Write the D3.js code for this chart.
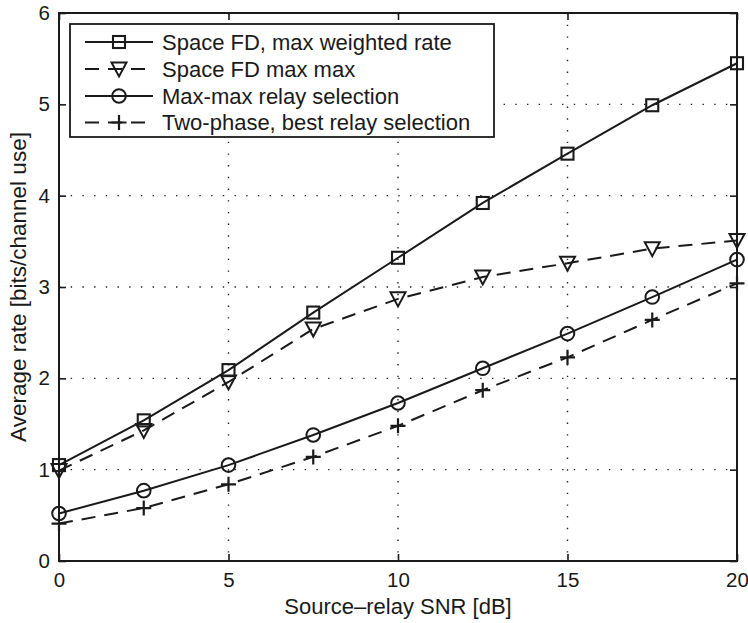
<!DOCTYPE html>
<html><head><meta charset="utf-8">
<script src="https://cdn.jsdelivr.net/npm/d3@7"></script>
<style>
html,body{margin:0;padding:0;background:#fff;}
svg{display:block;font-family:"Liberation Sans",Arial,Helvetica,sans-serif;}
</style></head>
<body>
<svg id="chart" width="748" height="623"></svg>
<script>
const snr = [0, 2.5, 5, 7.5, 10, 12.5, 15, 17.5, 20];
const spaceFdWeighted = [1.05, 1.54, 2.09, 2.72, 3.32, 3.92, 4.46, 4.99, 5.45];
const spaceFdMaxMax   = [0.99, 1.43, 1.96, 2.54, 2.87, 3.11, 3.26, 3.42, 3.51];
const maxMaxRelay     = [0.52, 0.77, 1.05, 1.38, 1.73, 2.11, 2.49, 2.89, 3.30];
const twoPhaseBest    = [0.41, 0.58, 0.84, 1.14, 1.48, 1.87, 2.23, 2.64, 3.04];
const seriesNames = ["Space FD, max weighted rate", "Space FD max max", "Max-max relay selection", "Two-phase, best relay selection"];
const xTicks = [0, 5, 10, 15, 20];
const yTicks = [0, 1, 2, 3, 4, 5, 6];
const xLabel = "Source\u2013relay SNR [dB]";
const yLabel = "Average rate [bits/channel use]";

const series = [
  {name: seriesNames[0], values: spaceFdWeighted, dash: null, marker: "square"},
  {name: seriesNames[1], values: spaceFdMaxMax, dash: "14,9", marker: "triangle"},
  {name: seriesNames[2], values: maxMaxRelay, dash: null, marker: "circle"},
  {name: seriesNames[3], values: twoPhaseBest, dash: "14,9", marker: "plus"}
];

const ink = "#1a1a1a";
const L = 59, R = 737, T = 13, B = 561;
const svg = d3.select("#chart");
const x = d3.scaleLinear().domain([0, 20]).range([L, R]);
const y = d3.scaleLinear().domain([0, 6]).range([B, T]);

// grid
const grid = svg.append("g");
grid.selectAll("line.gx").data(xTicks.slice(1, -1)).join("line")
  .attr("x1", d => x(d)).attr("x2", d => x(d)).attr("y1", T).attr("y2", B)
  .attr("stroke", "#222").attr("stroke-width", 1.4).attr("stroke-dasharray", "1.4,10.3");
grid.selectAll("line.gy").data(yTicks.slice(1, -1)).join("line")
  .attr("y1", d => y(d)).attr("y2", d => y(d)).attr("x1", L).attr("x2", R)
  .attr("stroke", "#222").attr("stroke-width", 1.4).attr("stroke-dasharray", "1.4,10.3");

// axes (ticks inside on all sides)
const tickLen = 7;
const xb = d3.axisBottom(x).tickValues(xTicks).tickSizeInner(-tickLen).tickSizeOuter(0).tickPadding(11).tickFormat(d3.format("d"));
const yl = d3.axisLeft(y).tickValues(yTicks).tickSizeInner(-tickLen).tickSizeOuter(0).tickPadding(9).tickFormat(d3.format("d"));
const xt = d3.axisTop(x).tickValues(xTicks).tickSizeInner(-tickLen).tickSizeOuter(0).tickFormat("");
const yr = d3.axisRight(y).tickValues(yTicks).tickSizeInner(-tickLen).tickSizeOuter(0).tickFormat("");
function styleAxis(g) {
  g.select(".domain").remove();
  g.selectAll("line").attr("stroke", ink).attr("stroke-width", 1.6);
  g.selectAll("text").attr("fill", ink).attr("font-size", 20.5).attr("font-family", "'Liberation Sans',Arial,sans-serif");
}
svg.append("g").attr("transform", `translate(0,${B})`).call(xb).call(styleAxis);
svg.append("g").attr("transform", `translate(${L},0)`).call(yl).call(styleAxis);
svg.append("g").attr("transform", `translate(0,${T})`).call(xt).call(styleAxis);
svg.append("g").attr("transform", `translate(${R},0)`).call(yr).call(styleAxis);

// box
svg.append("rect").attr("x", L).attr("y", T).attr("width", R - L).attr("height", B - T)
  .attr("fill", "none").attr("stroke", ink).attr("stroke-width", 2);

// markers
function drawMarker(g, type, cx, cy) {
  if (type === "square") {
    g.append("rect").attr("x", cx - 6).attr("y", cy - 6).attr("width", 12).attr("height", 12)
      .attr("fill", "none").attr("stroke", ink).attr("stroke-width", 2.1);
  } else if (type === "triangle") {
    g.append("path").attr("d", `M${cx - 7.5},${cy - 6.5}L${cx + 7.5},${cy - 6.5}L${cx},${cy + 7.5}Z`)
      .attr("fill", "none").attr("stroke", ink).attr("stroke-width", 2);
  } else if (type === "circle") {
    g.append("circle").attr("cx", cx).attr("cy", cy).attr("r", 6.8)
      .attr("fill", "none").attr("stroke", ink).attr("stroke-width", 2);
  } else if (type === "plus") {
    g.append("path").attr("d", `M${cx - 7.5},${cy}L${cx + 7.5},${cy}M${cx},${cy - 7.5}L${cx},${cy + 7.5}`)
      .attr("fill", "none").attr("stroke", ink).attr("stroke-width", 2.2);
  }
}

const line = d3.line().x(d => x(d[0])).y(d => y(d[1]));
const plot = svg.append("g");
series.forEach(s => {
  const pts = snr.map((v, i) => [v, s.values[i]]);
  plot.append("path").attr("d", line(pts)).attr("fill", "none").attr("stroke", ink)
    .attr("stroke-width", 2).attr("stroke-dasharray", s.dash);
  const mg = plot.append("g");
  pts.forEach(p => drawMarker(mg, s.marker, x(p[0]), y(p[1])));
});

// legend
const lg = svg.append("g");
lg.append("rect").attr("x", 70).attr("y", 24).attr("width", 424).attr("height", 113)
  .attr("fill", "#fff").attr("stroke", ink).attr("stroke-width", 1.8);
const rowY = [42, 69, 96, 122.5];
series.forEach((s, i) => {
  const yy = rowY[i];
  lg.append("line").attr("x1", 85).attr("x2", 153).attr("y1", yy).attr("y2", yy)
    .attr("stroke", ink).attr("stroke-width", 2).attr("stroke-dasharray", s.dash);
  drawMarker(lg, s.marker, 119, yy);
  lg.append("text").attr("x", 162).attr("y", yy).attr("dy", "0.36em")
    .attr("font-size", 22).attr("fill", ink).text(s.name);
});

// axis titles
svg.append("text").attr("x", (L + R) / 2).attr("y", 614).attr("text-anchor", "middle")
  .attr("font-size", 22).attr("fill", ink).text(xLabel);
svg.append("text").attr("transform", `translate(26,${(T + B) / 2}) rotate(-90)`).attr("text-anchor", "middle")
  .attr("font-size", 22.5).attr("fill", ink).text(yLabel);
</script>
</body></html>
